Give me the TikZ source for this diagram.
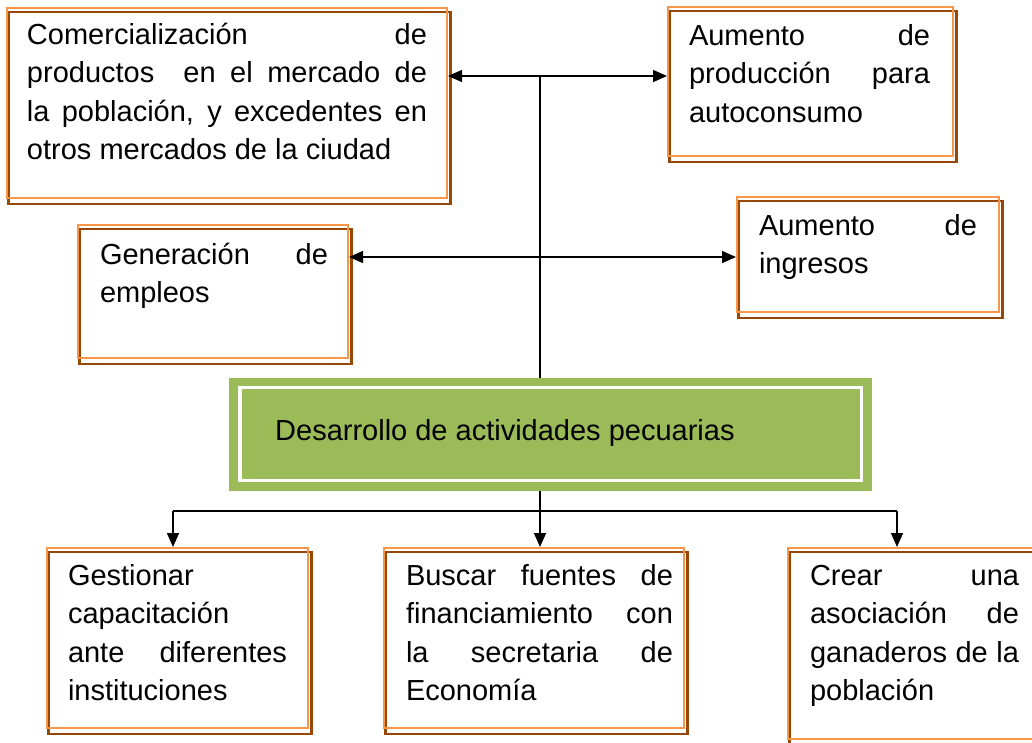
\documentclass[tikz,border=0pt]{standalone}
\usepackage{fontspec}
\setmainfont{Liberation Sans}
\usetikzlibrary{arrows.meta,backgrounds}
\definecolor{boxorange}{HTML}{F79646}
\definecolor{boxbrown}{HTML}{974806}
\definecolor{boxgreen}{HTML}{9BBB59}
\newcommand\jl[1]{\makebox[\linewidth][s]{#1}\\}
\newcommand\bt[5]{\hspace*{#1pt}\parbox[c][#4pt][t]{#2pt}{\strut #5}\hspace*{#3pt}}
\tikzset{
  obox/.style={draw=boxorange, line width=2pt, inner xsep=0pt, anchor=north west,
    font=\fontsize{29}{38.6}\selectfont},
  shadowline/.style={draw=boxbrown, line width=2.4pt},
  greenbox/.style={fill=boxgreen, anchor=north west, inner sep=0pt,
    minimum width=643pt, minimum height=113pt, text height=20pt, text depth=9pt,
    font=\fontsize{29}{34}\selectfont},
  link/.style={line width=1.4pt, draw=black},
  tip/.style={-{Triangle[length=14pt,width=12pt]}},
  tips/.style={{Triangle[length=14pt,width=12pt]}-{Triangle[length=14pt,width=12pt]}}
}
\begin{document}
\begin{tikzpicture}[x=1pt,y=-1pt]
\useasboundingbox (0,0) rectangle (1032,742);
\clip (0,0) rectangle (1032,742);

% boxes
\node[obox, inner ysep=9pt] (b1) at (6,7)
  {\bt{20}{400}{20}{172}{\jl{Comercialización de}\jl{productos\ \ en el mercado de}\jl{la población, y excedentes en}otros mercados de la ciudad}};
\node[obox, inner ysep=11pt] (b2) at (667,6)
  {\bt{21}{241}{23}{127}{\jl{Aumento de}\jl{producción para}autoconsumo}};
\node[obox, inner ysep=12pt] (b3) at (77,224)
  {\bt{22}{228}{20}{109}{\jl{Generación de}empleos}};
\node[obox, inner ysep=11pt] (b4) at (736,196)
  {\bt{22}{218}{22}{93}{\jl{Aumento de}ingresos}};
\node[obox, inner ysep=10pt] (b5) at (46,547)
  {\bt{21}{219}{21}{160}{Gestionar\\capacitación\\\jl{ante diferentes}instituciones}};
\node[obox, inner ysep=10pt] (b6) at (383,547)
  {\bt{22}{267}{11}{160}{\jl{Buscar fuentes de}\jl{financiamiento con}\jl{la secretaria de}Economía}};
\node[obox, inner ysep=10pt] (b7) at (787,547)
  {\bt{22}{209}{22}{171}{\jl{Crear una}\jl{asociación de}\jl{ganaderos de la}población}};

% white page and brown offset frames behind the boxes
\begin{pgfonlayer}{background}
\fill[white] (0,0) rectangle (1032,742);
\foreach \n in {b1,b2,b3,b4,b5,b6,b7}
  \draw[shadowline] ([shift={(2.5pt,-5pt)}]\n.south west) rectangle ([shift={(2.5pt,-5pt)}]\n.north east);
\end{pgfonlayer}

% central green box
\node[greenbox] (g) at (229,378) {\makebox[643pt][l]{\hspace*{46pt}Desarrollo de actividades pecuarias}};
\draw[white, line width=3.5pt] ([shift={(11pt,-9.5pt)}]g.north west) rectangle ([shift={(-11pt,11pt)}]g.south east);

% connectors
\coordinate (j1) at (540,76);
\coordinate (j2) at (540,257);
\coordinate (j3) at (540,511);
\coordinate (jl) at (173,511);
\coordinate (jr) at (897,511);

\draw[link] (j1) -- (j1 |- g.north);
\draw[link, tips] (b1.east |- j1) -- (b2.west |- j1);
\draw[link, tips] (b3.east |- j2) -- (b4.west |- j2);

\draw[link, tip] (j3 |- g.south) -- (j3 |- b6.north);
\draw[link] (jl) -- (jr);
\draw[link, tip] (jl) -- (jl |- b5.north);
\draw[link, tip] (jr) -- (jr |- b7.north);
\end{tikzpicture}
\end{document}
